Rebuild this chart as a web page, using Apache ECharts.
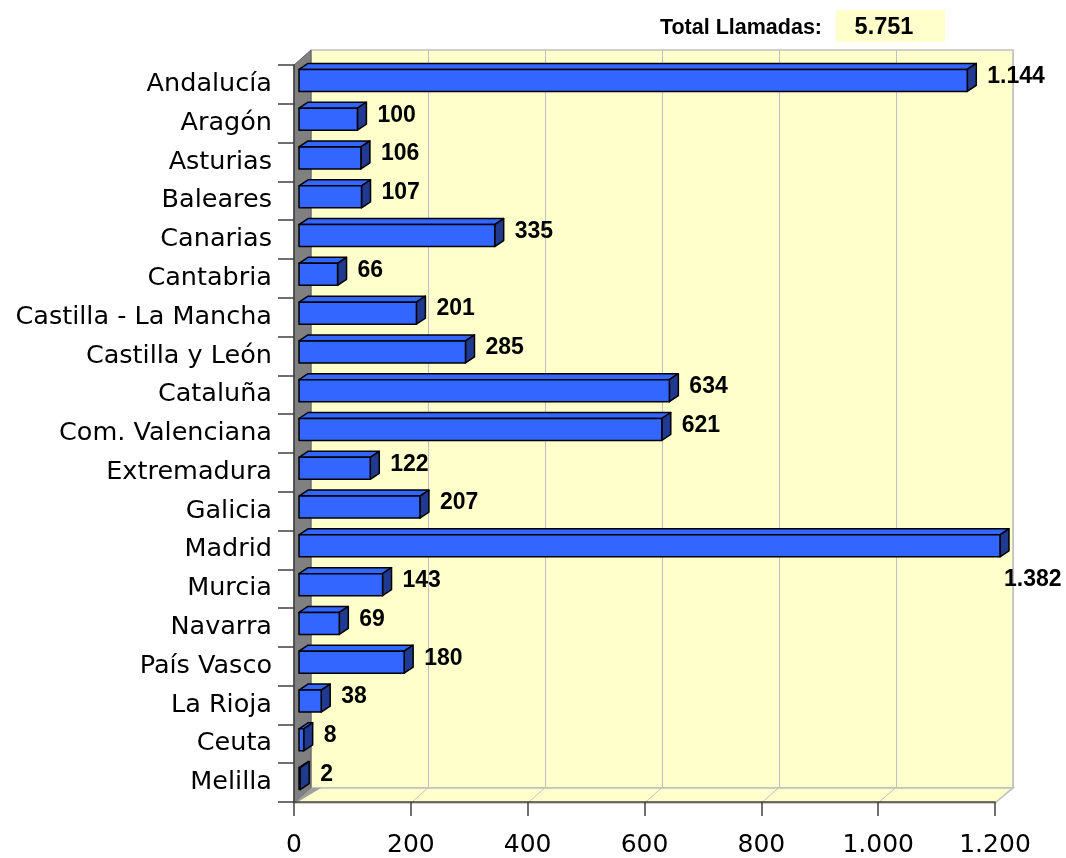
<!DOCTYPE html>
<html>
<head>
<meta charset="utf-8">
<script src="https://cdn.jsdelivr.net/npm/echarts@6/dist/echarts.min.js"></script>
<style>html,body{margin:0;padding:0;background:#fff;}#c{width:1066px;height:858px;}</style>
</head>
<body>
<div id="c"></div>
<script>
const categories = ['Andalucía','Aragón','Asturias','Baleares','Canarias','Cantabria','Castilla - La Mancha','Castilla y León','Cataluña','Com. Valenciana','Extremadura','Galicia','Madrid','Murcia','Navarra','País Vasco','La Rioja','Ceuta','Melilla'];
const values = [1144,100,106,107,335,66,201,285,634,621,122,207,1382,143,69,180,38,8,2];
const axisMin = 0;
const axisMax = 1200;
const axisInterval = 200;
const totalLabel = 'Total Llamadas:';
const totalValue = 5751;

function fmt(n){ return String(n).replace(/\B(?=(\d{3})+(?!\d))/g, '.'); }

const FRONT = {left:294, top:65, width:701, height:738};
const DEPTH = {dx:17, dy:15};
const BACK = {left:FRONT.left+DEPTH.dx, top:FRONT.top-DEPTH.dy, width:FRONT.width+1, height:FRONT.height};

const chart = echarts.init(document.getElementById('c'), null, {renderer:'canvas'});

const barData = values.map((v,i)=>[Math.min(v,axisMax), i, v]);

function renderBar(params, api){
  const idx = api.value(1);
  const v = api.value(0);
  const orig = api.value(2);
  const p0 = api.coord([0, idx]);
  const p1 = api.coord([v, idx]);
  const h = 22, dx = 9, dy = 6, ox = 5, oy = -4;
  const x0 = p0[0]+ox, x1 = p1[0]+ox, yc = p0[1]+oy;
  const yt = yc - h/2, yb = yc + h/2;
  const stroke = {stroke:'#000', lineWidth:1.5, lineJoin:'round'};
  const clipped = orig > axisMax;
  const children = [
    {type:'polygon', shape:{points:[[x0,yt],[x0+dx,yt-dy],[x1+dx,yt-dy],[x1,yt]]}, style:Object.assign({fill:'#3366FF'},stroke)},
    {type:'polygon', shape:{points:[[x1,yt],[x1+dx,yt-dy],[x1+dx,yb-dy],[x1,yb]]}, style:Object.assign({fill:'#1F3A8F'},stroke)},
    {type:'rect', shape:{x:x0,y:yt,width:Math.max(x1-x0,0),height:h}, style:Object.assign({fill:'#3366FF'},stroke)},
    {type:'text', style:{
      text: fmt(orig),
      x: clipped ? x1+4 : x1+dx+11,
      y: clipped ? yc+34 : yc-4,
      textAlign:'left', textVerticalAlign:'middle',
      font:'bold 23px "Liberation Sans", Arial, sans-serif', fill:'#000'}}
  ];
  return {type:'group', children};
}

chart.setOption({
  animation:false,
  grid:[
    {left:FRONT.left, top:FRONT.top, width:FRONT.width, height:FRONT.height, containLabel:false},
    {left:BACK.left, top:BACK.top, width:BACK.width, height:BACK.height, show:true, backgroundColor:'#FFFFCC', borderColor:'#C0C0C0', borderWidth:1.5, z:0}
  ],
  xAxis:[
    {gridIndex:0, type:'value', min:axisMin, max:axisMax, interval:axisInterval,
     axisLine:{show:true, lineStyle:{color:'#404040', width:1.5}},
     axisTick:{show:true, length:14, lineStyle:{color:'#404040', width:1.5}},
     axisLabel:{margin:31, fontSize:25, color:'#000', fontFamily:'"DejaVu Sans", sans-serif', formatter:v=>fmt(v)},
     splitLine:{show:false}, z:5},
    {gridIndex:1, type:'value', min:axisMin, max:axisMax, interval:axisInterval,
     axisLine:{show:false}, axisTick:{show:false}, axisLabel:{show:false},
     splitLine:{show:true, lineStyle:{color:'#C0C0C0', width:1}}, z:0}
  ],
  yAxis:[
    {gridIndex:0, type:'category', data:categories, inverse:true,
     axisLine:{show:true, lineStyle:{color:'#404040', width:1.5}},
     axisTick:{show:true, length:16, lineStyle:{color:'#404040', width:1.5}},
     axisLabel:{margin:22, fontSize:25.5, color:'#000', fontFamily:'"DejaVu Sans", sans-serif'},
     z:5},
    {gridIndex:1, type:'category', data:categories, inverse:true, show:false}
  ],
  series:[{
    type:'custom', xAxisIndex:0, yAxisIndex:0, data:barData,
    encode:{x:0, y:1}, renderItem:renderBar, clip:false, z:10
  }]
});

const gx = v => chart.convertToPixel({xAxisIndex:0}, v);
const fx0 = FRONT.left, fy0 = FRONT.top, fy1 = FRONT.top+FRONT.height, fx1 = FRONT.left+FRONT.width;
const bx0 = BACK.left, by0 = BACK.top, by1 = BACK.top+BACK.height, bx1 = BACK.left+BACK.width;
const elements = [];
elements.push({type:'polygon', z:1, shape:{points:[[fx0,fy1],[bx0,by1],[bx1,by1],[fx1,fy1]]}, style:{fill:'#FFFFCC', stroke:'#C0C0C0', lineWidth:1.5}});
for (let v = axisMin + axisInterval; v <= axisMax; v += axisInterval){
  const px = gx(v);
  elements.push({type:'line', z:1, shape:{x1:px, y1:fy1, x2:px+DEPTH.dx, y2:by1}, style:{stroke:'#C0C0C0', lineWidth:1}});
}
elements.push({type:'polygon', z:2, shape:{points:[[fx0,fy0],[bx0,by0],[bx0,by1],[fx0,fy1]]}, style:{fill:'#808080', stroke:'#606060', lineWidth:1}});
elements.push({type:'polygon', z:2, shape:{points:[[fx0,fy1],[bx0,by1],[bx0+10,by1],[fx0+2,fy1]]}, style:{fill:'#A0A0A0'}});
elements.push({type:'text', z:20, style:{text:totalLabel, x:822, y:28, textAlign:'right', textVerticalAlign:'middle', font:'bold 21.5px "Liberation Sans", Arial, sans-serif', fill:'#000'}});
elements.push({type:'rect', z:20, shape:{x:836, y:10, width:109, height:32}, style:{fill:'#FFFFCC'}});
elements.push({type:'text', z:21, style:{text:fmt(totalValue), x:884, y:28, textAlign:'center', textVerticalAlign:'middle', font:'bold 23.5px "Liberation Sans", Arial, sans-serif', fill:'#000'}});
chart.setOption({graphic:{elements}});
</script>
</body>
</html>
